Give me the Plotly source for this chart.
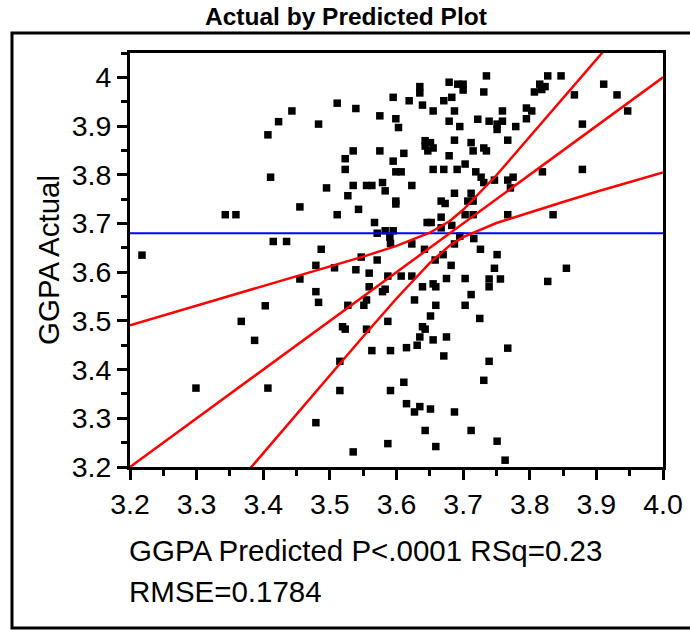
import plotly.graph_objects as go

# ---- data ----
predicted = [
    3.443, 3.423, 3.407, 3.411, 3.455, 3.343, 3.359, 3.415, 3.435, 3.218,
    3.455, 3.403, 3.367, 3.387, 3.299, 3.407,
    3.679, 3.692, 3.700, 3.700, 3.635, 3.635, 3.595, 3.619, 3.671, 3.683,
    3.511, 3.539, 3.639, 3.655, 3.687, 3.575, 3.599, 3.603, 3.679, 3.695,
    3.722, 3.739, 3.483, 3.643, 3.651, 3.643, 3.655, 3.647, 3.687, 3.712,
    3.715, 3.535, 3.575, 3.611, 3.523, 3.679, 3.595, 3.703, 3.523, 3.599,
    3.607, 3.655, 3.671, 3.691, 3.719, 3.727, 3.731, 3.495, 3.535, 3.555,
    3.563, 3.579, 3.583, 3.623, 3.527, 3.687, 3.712, 3.599, 3.599, 3.667,
    3.673, 3.707, 3.715, 3.543, 3.511, 3.667, 3.703, 3.715, 3.567, 3.646,
    3.652, 3.667, 3.683, 3.571, 3.583, 3.595, 3.590, 3.591, 3.695, 3.716,
    3.623, 3.687, 3.726, 3.487, 3.642, 3.670, 3.547, 3.571, 3.658, 3.479,
    3.682, 3.507, 3.539,
    3.735, 3.731, 3.827, 3.847, 3.815, 3.823, 3.818, 3.807, 3.867, 3.911,
    3.931, 3.947, 3.759, 3.795, 3.803, 3.795, 3.751, 3.759, 3.751, 3.779,
    3.767, 3.879, 3.731, 3.735, 3.747, 3.767, 3.775, 3.771, 3.819, 3.879,
    3.767, 3.835, 3.751,
    3.559, 3.587, 3.607, 3.623, 3.675, 3.703, 3.559, 3.579, 3.583, 3.639,
    3.655, 3.659, 3.479, 3.483, 3.527, 3.551, 3.555, 3.627, 3.659, 3.703,
    3.712, 3.725, 3.651, 3.587, 3.519, 3.523, 3.555, 3.639, 3.643, 3.635,
    3.655, 3.675, 3.631, 3.615, 3.563, 3.591, 3.671, 3.515, 3.611, 3.515,
    3.591, 3.615, 3.627, 3.635, 3.651, 3.687, 3.479, 3.643, 3.712, 3.587,
    3.659, 3.535,
    3.747, 3.855, 3.739, 3.756, 3.739, 3.827, 3.767, 3.739, 3.731, 3.751,
    3.763,
]
actual = [
    3.931, 3.909, 3.882, 3.795, 3.734, 3.718, 3.718, 3.663, 3.663, 3.635,
    3.586, 3.531, 3.499, 3.460, 3.362, 3.362,
    3.990, 3.986, 3.986, 3.974, 3.981, 3.968, 3.959, 3.952, 3.952, 3.959,
    3.947, 3.936, 3.943, 3.931, 3.931, 3.921, 3.915, 3.897, 3.910, 3.899,
    3.914, 3.910, 3.904, 3.870, 3.866, 3.859, 3.855, 3.849, 3.871, 3.866,
    3.849, 3.849, 3.849, 3.844, 3.833, 3.839, 3.828, 3.822, 3.811, 3.806,
    3.806, 3.811, 3.811, 3.811, 3.806, 3.795, 3.784, 3.773, 3.778, 3.778,
    3.778, 3.784, 3.767, 3.778, 3.757, 3.762, 3.762, 3.746, 3.740, 3.746,
    3.741, 3.746, 3.746, 3.729, 3.718, 3.713, 3.718, 3.718, 3.702, 3.702,
    3.702, 3.691, 3.696, 3.680, 3.685, 3.685, 3.672, 3.659, 3.674, 3.669,
    3.658, 3.658, 3.647, 3.647, 3.647, 3.636, 3.631, 3.625, 3.625, 3.614,
    3.614, 3.609, 3.605,
    4.003, 3.970, 4.003, 4.003, 3.986, 3.981, 3.975, 3.970, 3.964, 3.986,
    3.964, 3.931, 3.931, 3.937, 3.931, 3.915, 3.904, 3.910, 3.893, 3.899,
    3.871, 3.904, 3.855, 3.849, 3.789, 3.789, 3.795, 3.773, 3.806, 3.811,
    3.718, 3.718, 3.636,
    3.598, 3.592, 3.592, 3.592, 3.587, 3.587, 3.570, 3.560, 3.565, 3.570,
    3.576, 3.570, 3.560, 3.538, 3.532, 3.532, 3.543, 3.543, 3.532, 3.532,
    3.554, 3.505, 3.510, 3.499, 3.488, 3.483, 3.483, 3.488, 3.483, 3.467,
    3.461, 3.467, 3.450, 3.445, 3.439, 3.439, 3.428, 3.417, 3.374, 3.357,
    3.357, 3.330, 3.313, 3.324, 3.319, 3.313, 3.291, 3.275, 3.275, 3.248,
    3.242, 3.231,
    3.608, 3.608, 3.586, 3.586, 3.570, 3.581, 3.444, 3.417, 3.378, 3.253,
    3.214,
]

mean_actual = 3.680

fit_x = [3.2, 4.0]
fit_y = [3.2, 4.0]

band_x = [3.20, 3.30, 3.40, 3.50, 3.55, 3.60, 3.65, 3.68, 3.70, 3.75,
          3.80, 3.85, 3.90, 3.95, 4.00]
band_upper = [3.491, 3.531, 3.571, 3.612, 3.632, 3.654, 3.681, 3.705, 3.728,
              3.799, 3.877, 3.956, 4.035, 4.115, 4.195]
band_lower = [2.909, 3.069, 3.229, 3.389, 3.468, 3.546, 3.619, 3.655, 3.672,
              3.701, 3.723, 3.744, 3.765, 3.785, 3.805]

x_ticks = [3.2, 3.3, 3.4, 3.5, 3.6, 3.7, 3.8, 3.9, 4.0]
x_ticktext = ["3.2", "3.3", "3.4", "3.5", "3.6", "3.7", "3.8", "3.9", "4.0"]
y_ticks = [3.2, 3.3, 3.4, 3.5, 3.6, 3.7, 3.8, 3.9, 4.0]
y_ticktext = ["3.2", "3.3", "3.4", "3.5", "3.6", "3.7", "3.8", "3.9", "4"]

title_text = "Actual by Predicted Plot"
y_title = "GGPA Actual"
x_title_1 = "GGPA Predicted P<.0001 RSq=0.23"
x_title_2 = "RMSE=0.1784"

FONT = "Liberation Sans, Arial, Helvetica, sans-serif"

fig = go.Figure()

fig.add_trace(go.Scatter(
    x=predicted, y=actual, mode="markers",
    marker=dict(symbol="square", size=7.5, color="black", line=dict(width=0)),
    hoverinfo="skip", showlegend=False,
))

fig.add_trace(go.Scatter(
    x=[x_ticks[0], x_ticks[-1]], y=[mean_actual, mean_actual], mode="lines",
    line=dict(color="#0000FF", width=2), hoverinfo="skip", showlegend=False,
))

for ys in (band_upper, band_lower):
    fig.add_trace(go.Scatter(
        x=band_x, y=ys, mode="lines",
        line=dict(color="#FF0000", width=2.5), hoverinfo="skip", showlegend=False,
    ))
fig.add_trace(go.Scatter(
    x=fit_x, y=fit_y, mode="lines",
    line=dict(color="#FF0000", width=2.5), hoverinfo="skip", showlegend=False,
))

axis_common = dict(
    showgrid=False, zeroline=False,
    showline=True, linecolor="black", linewidth=3, mirror=True,
    ticks="outside", ticklen=10, tickwidth=2.5, tickcolor="black",
    tickfont=dict(family=FONT, size=28.5, color="black"),
    automargin=False,
)

fig.update_xaxes(
    range=[3.2, 4.0], tickmode="array", tickvals=x_ticks, ticktext=x_ticktext,
    minor=dict(ticks="outside", ticklen=6, tickwidth=2.5, tickcolor="black", dtick=0.05, tick0=3.2, showgrid=False),
    **axis_common,
)
fig.update_yaxes(
    range=[3.2, 4.05], tickmode="array", tickvals=y_ticks, ticktext=y_ticktext,
    minor=dict(ticks="outside", ticklen=6, tickwidth=2.5, tickcolor="black", dtick=0.05, tick0=3.2, showgrid=False),
    **axis_common,
)

fig.update_layout(
    width=690, height=633,
    margin=dict(l=130, r=27, t=53, b=166, pad=0),
    paper_bgcolor="white", plot_bgcolor="white",
    font=dict(family=FONT, color="black"),
    showlegend=False,
    annotations=[
        dict(text="<b>" + title_text + "</b>", xref="paper", yref="paper",
             x=0.405, y=1.087, xanchor="center", yanchor="middle",
             showarrow=False, font=dict(family=FONT, size=24.5, color="black")),
        dict(text=y_title, xref="paper", yref="paper", x=-0.154, y=0.5,
             xanchor="center", yanchor="middle", textangle=-90,
             showarrow=False, font=dict(family=FONT, size=29.5, color="black")),
        dict(text=x_title_1, xref="paper", yref="paper", x=-0.006, y=-0.2005,
             xanchor="left", yanchor="middle",
             showarrow=False, font=dict(family=FONT, size=29.5, color="black")),
        dict(text=x_title_2, xref="paper", yref="paper", x=-0.006, y=-0.3019,
             xanchor="left", yanchor="middle",
             showarrow=False, font=dict(family=FONT, size=29.5, color="black")),
    ],
    shapes=[
        dict(type="rect", xref="paper", yref="paper",
             x0=-0.2214, x1=1.075, y0=-0.3889, y1=1.0483,
             line=dict(color="black", width=3), fillcolor="rgba(0,0,0,0)",
             layer="below"),
    ],
)

fig.write_html(
    "out.html",
    config={"displayModeBar": False},
    post_script="document.body.style.margin='0';document.body.style.padding='0';",
)
